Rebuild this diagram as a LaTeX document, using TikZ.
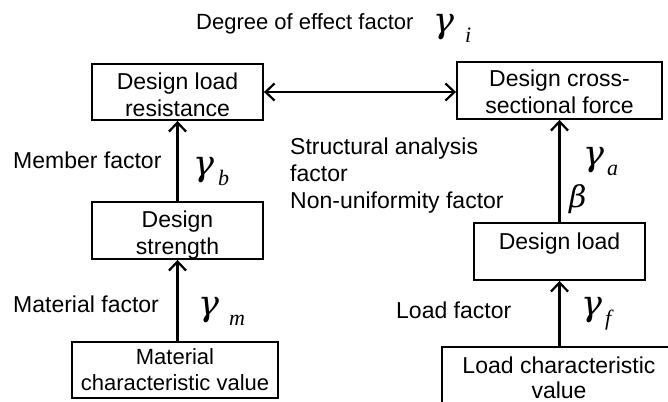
\documentclass[tikz,border=0pt]{standalone}
\usepackage{fontspec}
\setmainfont{Liberation Sans}
\newfontfamily\gkserif{Liberation Serif}
\newfontfamily\gkgreek{DejaVu Serif}
\usepackage{tikz}
\usetikzlibrary{positioning,calc,arrows.meta}

\newcommand{\factorsym}[3][6pt]{{\fontsize{35}{35}\selectfont\gkgreek\itshape #2}\hspace{#1}\raisebox{-10pt}{\fontsize{22}{22}\selectfont\gkserif\itshape #3}}

\begin{document}
\begin{tikzpicture}[
    x=1pt, y=-1pt,
    box/.style={draw, line width=1.9pt, rectangle, inner sep=0pt},
    lbl/.style={font=\fontsize{23}{27}\selectfont, align=center, inner sep=0pt},
    txt/.style={font=\fontsize{23}{27}\selectfont, align=left, inner sep=0pt, anchor=base west},
    sym/.style={inner sep=0pt, anchor=base west},
    flow/.style={line width=2.2pt, -{Straight Barb[length=9pt,width=17pt,line width=2.2pt]}},
    twoway/.style={line width=2.2pt, {Straight Barb[length=9pt,width=17pt,line width=2.2pt]}-{Straight Barb[length=9pt,width=17pt,line width=2.2pt]}}
]
    \clip (0,0) rectangle (668,401);

    % Boxes
    \node [box, minimum width=171, minimum height=56] (dlr) at (177.5,92) {};
    \node [lbl, yshift=-3pt] (dlr-t) at (dlr.center) {Design load\\resistance};
    \node [box, minimum width=205, minimum height=57] (dcf) at (559.5,90.5) {};
    \node [lbl, yshift=-1.5pt] (dcf-t) at (dcf.center) {Design cross-\\sectional force};
    \node [box, minimum width=171, minimum height=57] (ds) at (177.5,230.5) {};
    \node [lbl, yshift=-5pt] (ds-t) at (ds.center) {Design\\strength};
    \node [box, minimum width=171, minimum height=57] (dl) at (559.5,251.5) {};
    \node [lbl, yshift=7.5pt] (dl-t) at (dl.center) {Design load};
    \node [box, minimum width=206, minimum height=56] (mcv) at (175,370) {};
    \node [lbl, font=\fontsize{22}{26}\selectfont] (mcv-t) at (mcv.center) {Material\\characteristic value};
    \node [box, minimum width=234, minimum height=57] (lcv) at (559,375.5) {};
    \node [lbl, font=\fontsize{23}{25}\selectfont, yshift=-2pt] (lcv-t) at (lcv.center) {Load characteristic\\value};

    % Arrows
    \draw [twoway] (dlr.east) -- (dlr.east -| dcf.west);
    \draw [flow] (ds.north) -- (dlr.south);
    \draw [flow] (mcv.north -| ds.south) -- (ds.south);
    \draw [flow] (dl.north) -- (dcf.south);
    \draw [flow] (lcv.north -| dl.south) -- (dl.south);

    % Factors
    \node [txt, font=\fontsize{22}{26}\selectfont] (title) at (196,30) {Degree of effect factor};
    \node [sym] (gi) at (433,33) {\factorsym[11pt]{γ}{i}};
    \node [txt] (memb) at (13,168) {Member factor};
    \node [sym] (gb) at (193,175) {\factorsym[4pt]{γ}{b}};
    \node [txt, anchor=north west] (sa) at (290,138) {Structural analysis\\factor\\Non-uniformity factor};
    \node [sym] (ga) at (583,165) {\factorsym[3pt]{γ}{a}};
    \node [sym, font=\fontsize{30}{30}\selectfont\gkgreek\itshape] (beta) at (569,207) {β};
    \node [txt] (matf) at (13,312) {Material factor};
    \node [sym] (gm) at (198,315) {\factorsym[10pt]{γ}{m}};
    \node [txt] (loadf) at (396,318) {Load factor};
    \node [sym] (gf) at (581,315) {\factorsym[3pt]{γ}{f}};
\end{tikzpicture}
\end{document}
